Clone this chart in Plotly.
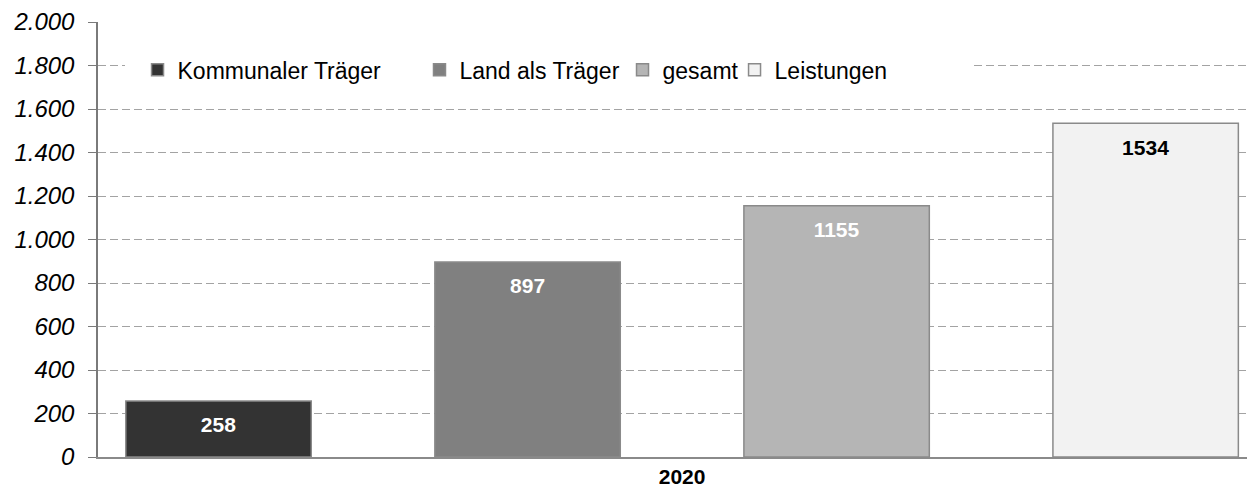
import plotly.graph_objects as go

categories = ["2020"]
series_names = ["Kommunaler Träger", "Land als Träger", "gesamt", "Leistungen"]
series_values = [[258], [897], [1155], [1534]]
series_colors = ["#333333", "#808080", "#b5b5b5", "#f2f2f2"]
text_colors = ["white", "white", "white", "black"]
y_ticks = [0, 200, 400, 600, 800, 1000, 1200, 1400, 1600, 1800, 2000]

legend_ids = ["legend", "legend2", "legend3", "legend4"]
legend_x = [0.0344, 0.2798, 0.4565, 0.554]

fig = go.Figure()
for name, vals, col, tcol, lid in zip(series_names, series_values, series_colors, text_colors, legend_ids):
    fig.add_trace(go.Bar(
        x=categories, y=vals, name=name, legend=lid,
        marker=dict(color=col, line=dict(color="#8a8a8a", width=1.5)),
        text=[str(v) for v in vals],
        texttemplate="<span style='font-size:1px'> </span><br>%{text}",
        textposition="inside", insidetextanchor="end",
        textangle=0, constraintext="none",
        textfont=dict(family="Liberation Sans, Arial", size=21, color=tcol, weight="bold"),
    ))

legend_style = dict(orientation="h", y=0.89, xanchor="left", yanchor="middle",
                    bgcolor="rgba(0,0,0,0)", font=dict(size=23, color="black"), itemwidth=30)
legends = {lid: dict(x=lx, **legend_style) for lid, lx in zip(legend_ids, legend_x)}

fig.update_layout(
    width=1239, height=480,
    margin=dict(l=90, r=0, t=14, b=31),
    paper_bgcolor="white", plot_bgcolor="white",
    barmode="group", bargap=0.0, bargroupgap=0.4,
    separators=",.",
    font=dict(family="Liberation Sans, Arial", color="black"),
    showlegend=True,
    **legends,
    shapes=[dict(type="rect", xref="paper", yref="y", x0=0.0235, x1=0.759,
                 y0=1700, y1=1900, fillcolor="white", line=dict(width=0), layer="above")],
    xaxis=dict(
        type="category", range=[-0.4725, 0.457], automargin=False,
        showgrid=False, showline=True, linecolor="#8a8a8a", linewidth=1.5,
        ticks="", tickfont=dict(size=21, weight="bold"), ticklabelstandoff=0,
    ),
    yaxis=dict(
        range=[0, 2000], tickvals=y_ticks, tickformat=",d", automargin=False,
        showgrid=True, gridcolor="#a3a3a3", griddash="8px,4px", gridwidth=1,
        showline=True, linecolor="#7a7a7a", linewidth=1.5,
        ticks="outside", ticklen=8, tickcolor="#7a7a7a",
        tickfont=dict(size=24, style="italic"),
        zeroline=False, ticklabelstandoff=9,
    ),
)

fig.write_html("out.html")
